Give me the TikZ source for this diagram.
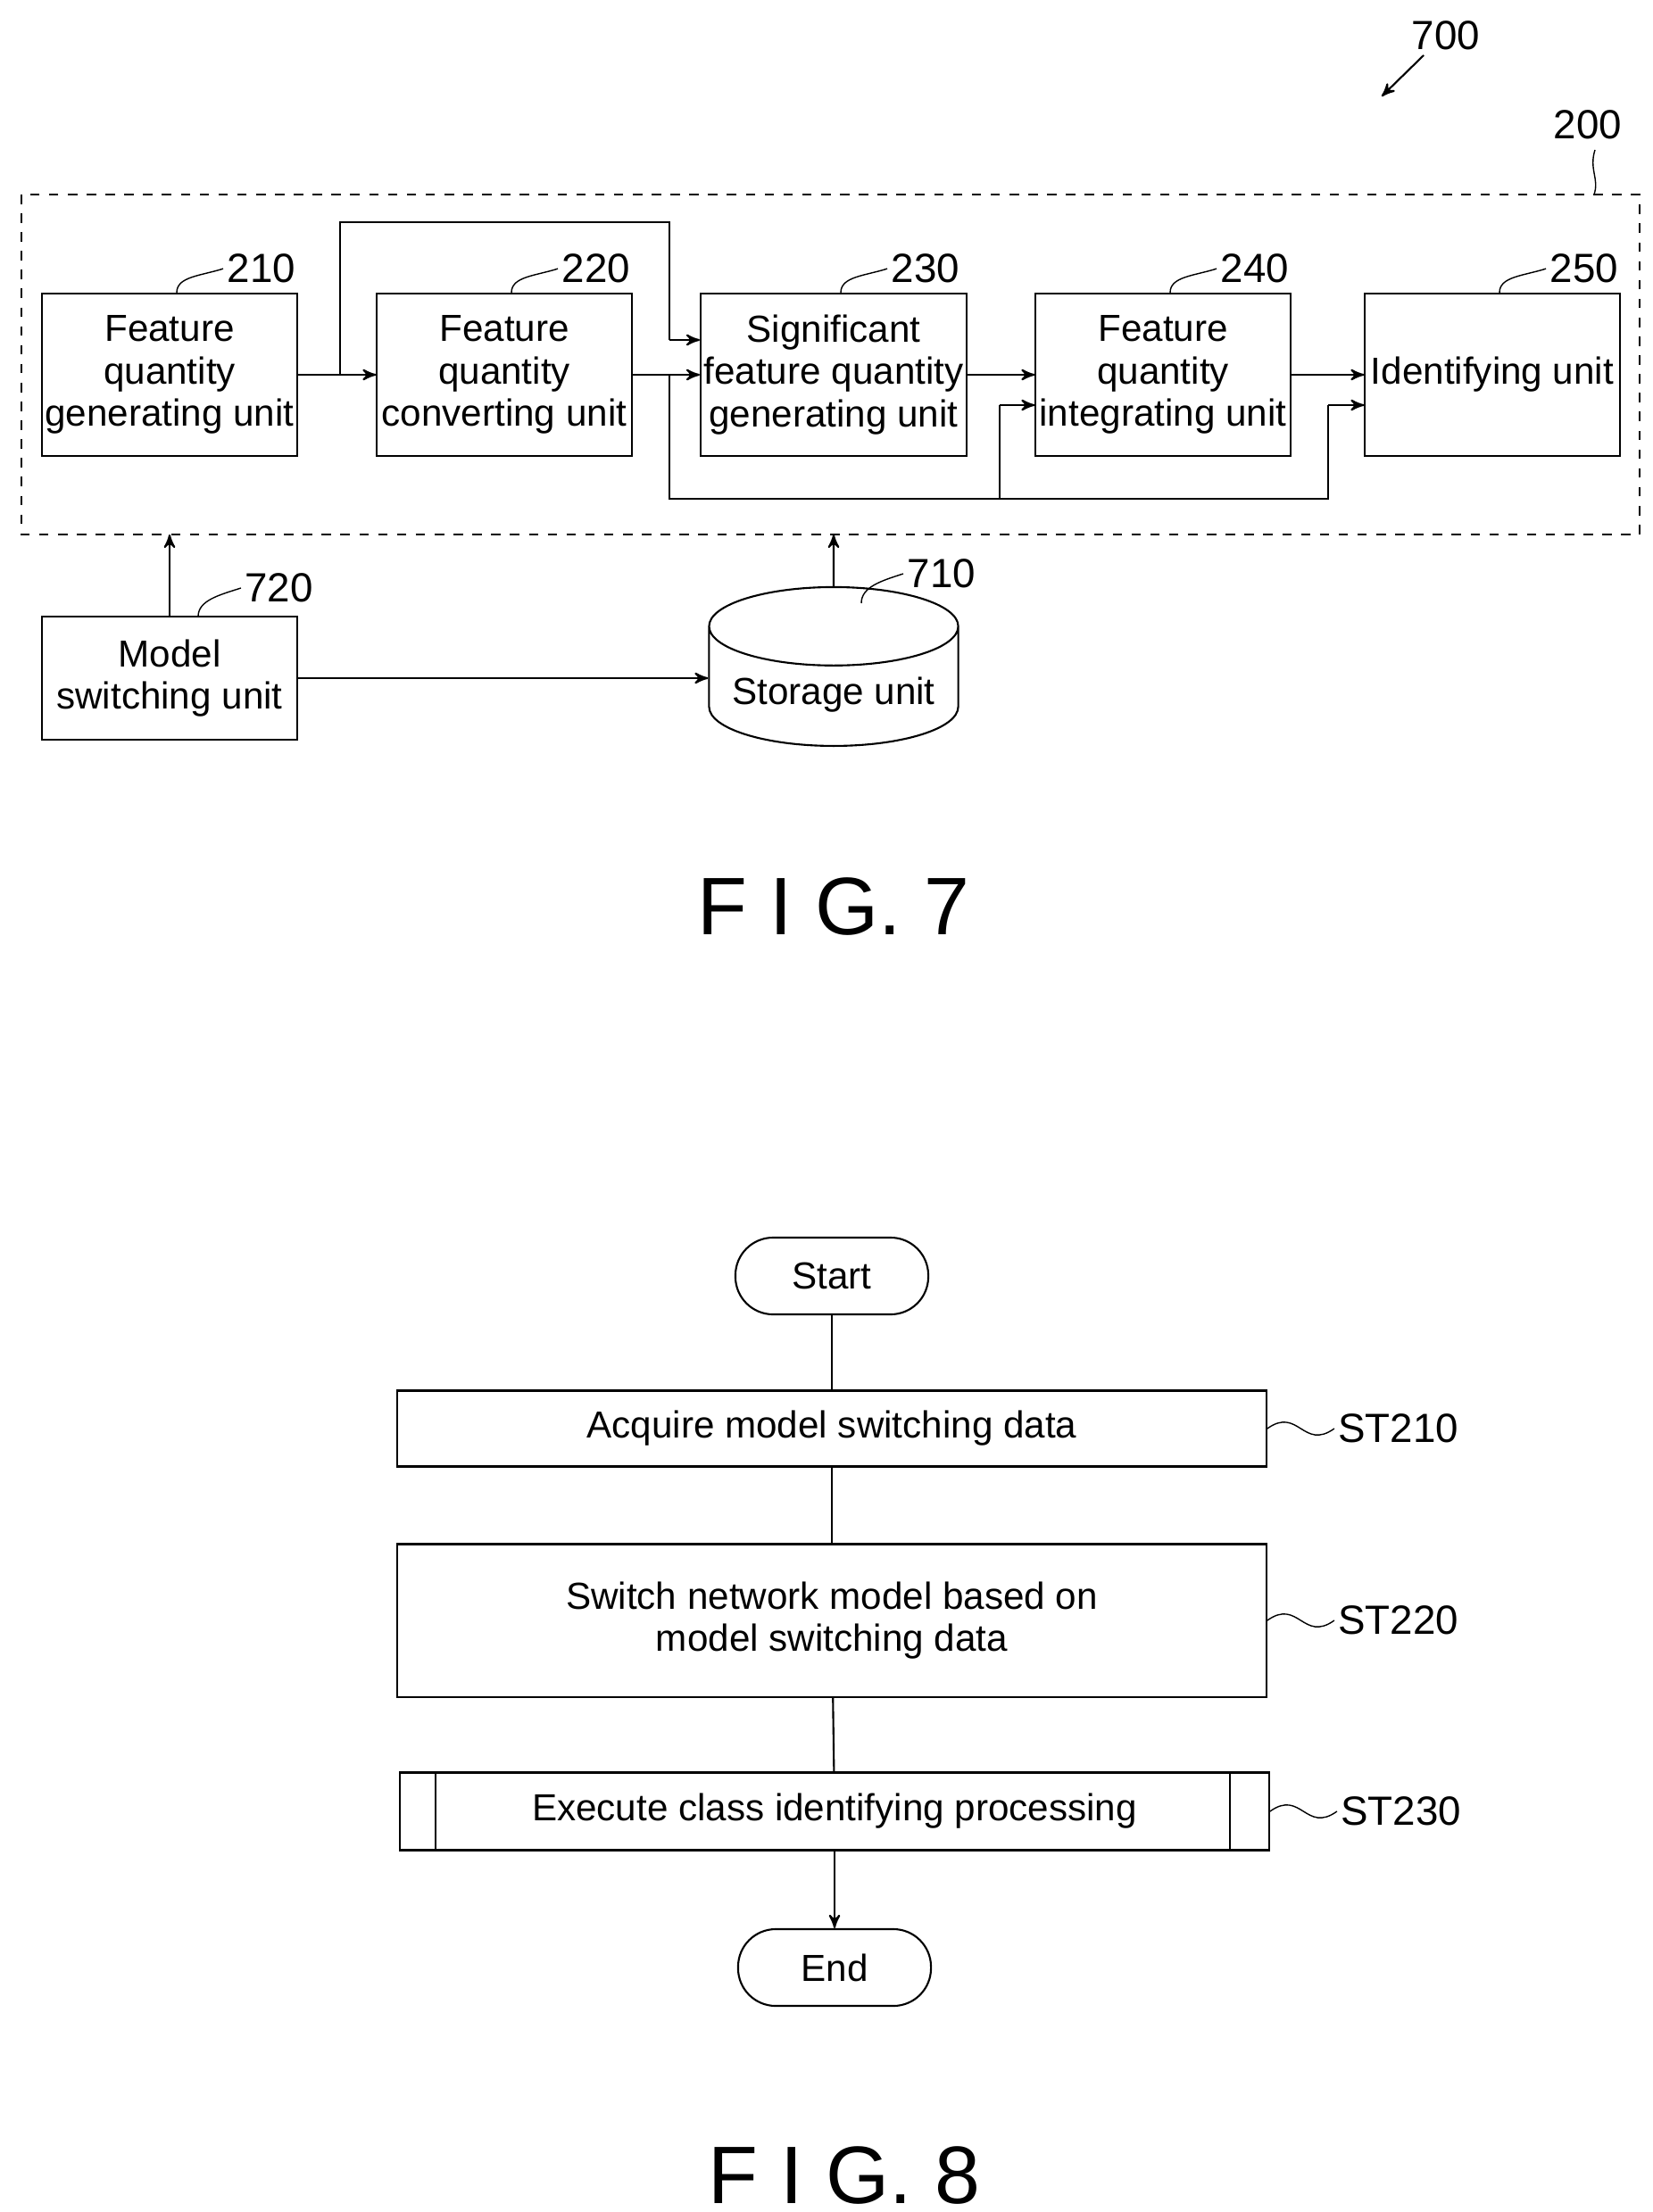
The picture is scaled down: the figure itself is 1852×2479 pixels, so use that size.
\documentclass[tikz,border=0pt]{standalone}
\usepackage{fontspec}
\setmainfont{Liberation Sans}
\usetikzlibrary{arrows,shapes.geometric,positioning}

\begin{document}
\begin{tikzpicture}[x=0.01cm,y=-0.01cm,>=stealth',semithick,
  font=\fontsize{12}{13.5}\selectfont]
  \tikzstyle{block}=[draw,minimum width=2.85cm,minimum height=1.82cm,align=center,
    inner sep=1pt]
  \tikzstyle{proc}=[draw,minimum width=9.73cm,align=center]
  \tikzstyle{term}=[draw,rounded corners=12pt,minimum width=2.16cm,minimum height=0.86cm]
  \tikzstyle{ref}=[font=\fontsize{13}{13}\selectfont,inner sep=1pt]
  \tikzstyle{tilde}=[thin]
  \tikzstyle{fig}=[font=\fontsize{26}{26}\selectfont]

  \useasboundingbox (0,0) rectangle (1852,2479);

  % FIG. 7
  \draw[dashed] (24,218) rectangle (1837,599);
  \node[ref] (n700) at (1620,40) {700};
  \draw[->] (1595,62) -- (1548,108);
  \node[ref] (n200) at (1779,140) {200};
  \draw[tilde] (1787,168) .. controls (1780,190) and (1792,200) .. (1786,218);

  \node[block] (A) at (190,420)  {Feature\\quantity\\generating unit};
  \node[block] (B) at (565,420)  {Feature\\quantity\\converting unit};
  \node[block] (C) at (934,420)  {Significant\\feature quantity\\generating unit};
  \node[block] (D) at (1303,420) {Feature\\quantity\\integrating unit};
  \node[block] (E) at (1672,420) {Identifying unit};

  \foreach \b/\r in {A/210,B/220,C/230,D/240,E/250}{
    \node[ref,anchor=south west] (l\r) at ([xshift=0.6cm,yshift=0.06cm]\b.north) {\r};
    \draw[tilde] ([xshift=0.08cm]\b.north) .. controls +(0,-18) and +(-25,8) .. (l\r.west);
  }

  \coordinate (j1) at (381,420);
  \coordinate (j2) at (750,420);
  \draw[->] (A) -- (B);
  \draw (j1) |- (750,249) -- (750,381);
  \draw[->] (750,381) -- (C.west |- 0,381);
  \draw[->] (B) -- (C);
  \draw[->] (C) -- (D);
  \draw[->] (D) -- (E);
  \draw (j2) |- (1488,559) -- (1488,454);
  \draw[->] (1488,454) -- (E.west |- 0,454);
  \draw (1120,559) -- (1120,454);
  \draw[->] (1120,454) -- (D.west |- 0,454);

  \node[block,minimum height=1.38cm] (M) at (190,760) {Model\\switching unit};
  \node[draw,cylinder,shape border rotate=90,aspect=0.35,minimum width=2.79cm,
    minimum height=1.45cm,anchor=south] (S) at (934,837) {Storage unit};
  \node[ref,anchor=west] (l720) at (270,659) {720};
  \draw[tilde] (222,691) .. controls +(0,-18) and +(-25,8) .. (l720.west);
  \node[ref,anchor=west] (l710) at (1012,643) {710};
  \draw[tilde] (965,676) .. controls +(0,-18) and +(-25,8) .. (l710.west);

  \draw[->] (M.north) -- (190,599);
  \draw[->] (S.north) -- (934,599);
  \draw[->] (M.east) -- (S.west |- M.east);

  \node[fig] (f7) at (934,1016) {F I G. 7};

  % FIG. 8
  \node[term] (start) at (932,1430) {Start};
  \node[proc,minimum height=0.85cm] (s1) at (932,1601) {Acquire model switching data};
  \node[proc,minimum height=1.71cm] (s2) at (932,1816)
    {Switch network model based on\\model switching data};
  \node[proc,minimum height=0.87cm] (s3) at (935,2030) {Execute class identifying processing};
  \draw ([xshift=0.41cm]s3.north west) -- ([xshift=0.41cm]s3.south west);
  \draw ([xshift=-0.45cm]s3.north east) -- ([xshift=-0.45cm]s3.south east);
  \node[term] (end) at (935,2205) {End};

  \draw (start) -- (s1);
  \draw (s1) -- (s2);
  \draw (s2) -- (s3);
  \draw[->] (s3) -- (end);

  \foreach \s/\t in {s1/ST210,s2/ST220,s3/ST230}{
    \node[ref,anchor=west] (l\t) at ([xshift=0.75cm]\s.east) {\t};
    \draw[tilde] (\s.east) .. controls +(35,-25) and +(-35,25) .. (l\t.west);
  }

  \node[fig] (f8) at (946,2438) {F I G. 8};
\end{tikzpicture}
\end{document}
